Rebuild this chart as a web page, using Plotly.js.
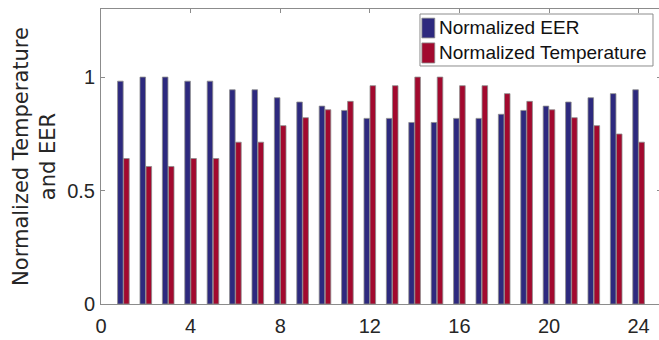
<!DOCTYPE html>
<html>
<head>
<meta charset="utf-8">
<script src="https://cdn.plot.ly/plotly-3.0.1.min.js"></script>
<style>
  html, body { margin: 0; padding: 0; overflow: hidden; background: #fff; }
  #chart { width: 662px; height: 340px; }
</style>
</head>
<body>
<div id="chart"></div>
<script>
// Hours of the day
const hours = [1, 2, 3, 4, 5, 6, 7, 8, 9, 10, 11, 12,
               13, 14, 15, 16, 17, 18, 19, 20, 21, 22, 23, 24];

// Normalized energy efficiency ratio per hour
const eer = [0.982, 1.000, 1.000, 0.982, 0.982, 0.944, 0.944, 0.909, 0.890, 0.872, 0.853, 0.818,
             0.818, 0.800, 0.800, 0.818, 0.818, 0.836, 0.853, 0.872, 0.890, 0.909, 0.927, 0.944];

// Normalized outdoor temperature per hour
const temperature = [0.641, 0.606, 0.606, 0.641, 0.641, 0.713, 0.713, 0.786, 0.821, 0.856, 0.893, 0.962,
                     0.962, 1.000, 1.000, 0.962, 0.962, 0.927, 0.893, 0.856, 0.821, 0.786, 0.749, 0.713];

const seriesNames = ['Normalized EER', 'Normalized Temperature'];

const xTicks = [0, 4, 8, 12, 16, 20, 24];
const yTicks = [0, 0.5, 1];
const yTickText = ['0', '0.5', '1'];

const blue = 'rgb(45,41,126)';
const red = 'rgb(162,9,46)';
const seriesColors = [blue, red];
const edge = 'rgb(140,140,140)';
const textColor = '#262626';
const axisColor = '#8c8c8c';
const fontFamily = '"Liberation Sans", Arial, Helvetica, sans-serif';
const titleFamily = '"DejaVu Sans", "Liberation Sans", Arial, sans-serif';

const traces = [
  {
    type: 'bar', name: seriesNames[0], x: hours, y: eer,
    marker: { color: seriesColors[0], line: { color: edge, width: 0.8 } },
    hoverinfo: 'x+y'
  },
  {
    type: 'bar', name: seriesNames[1], x: hours, y: temperature,
    marker: { color: seriesColors[1], line: { color: edge, width: 0.8 } },
    hoverinfo: 'x+y'
  }
];

// Compact boxed legend in the upper right corner of the axes (paper coordinates)
const legendBox = { x0: 0.5696, x1: 0.9857, y0: 0.8068, y1: 0.983 };
const swatchX = [0.573, 0.596];
const rowSwatchY = [[0.902, 0.969], [0.817, 0.885]];
const rowTextY = [0.9356, 0.851];
const textX = 0.600;

const shapes = [
  {
    type: 'rect', xref: 'paper', yref: 'paper',
    x0: legendBox.x0, x1: legendBox.x1, y0: legendBox.y0, y1: legendBox.y1,
    fillcolor: '#ffffff', line: { color: axisColor, width: 1 }, layer: 'above'
  }
];
const annotations = [];
seriesNames.forEach((name, i) => {
  shapes.push({
    type: 'rect', xref: 'paper', yref: 'paper',
    x0: swatchX[0], x1: swatchX[1], y0: rowSwatchY[i][0], y1: rowSwatchY[i][1],
    fillcolor: seriesColors[i], line: { color: edge, width: 0.8 }, layer: 'above'
  });
  annotations.push({
    xref: 'paper', yref: 'paper', x: textX, y: rowTextY[i],
    xanchor: 'left', yanchor: 'middle', showarrow: false, text: name,
    font: { family: fontFamily, size: 19, color: '#111111' }
  });
});

const layout = {
  width: 662, height: 340,
  margin: { l: 101, r: 1, t: 9, b: 36 },
  paper_bgcolor: '#ffffff', plot_bgcolor: '#ffffff',
  font: { family: fontFamily, color: textColor, size: 20 },
  barmode: 'group', bargap: 0.46, bargroupgap: 0.08,
  showlegend: false,
  shapes: shapes,
  annotations: annotations,
  xaxis: {
    range: [0, 25], tickvals: xTicks, ticktext: xTicks.map(String),
    ticks: 'inside', ticklen: 4, tickcolor: axisColor, tickwidth: 1,
    showline: true, linecolor: axisColor, linewidth: 1, mirror: 'ticks',
    showgrid: false, zeroline: false, ticklabelstandoff: 4,
    tickfont: { size: 20, color: textColor }
  },
  yaxis: {
    range: [0, 1.3], tickvals: yTicks, ticktext: yTickText,
    ticks: 'inside', ticklen: 4, tickcolor: axisColor, tickwidth: 1,
    showline: true, linecolor: axisColor, linewidth: 1, mirror: 'ticks',
    showgrid: false, zeroline: false, ticklabelstandoff: 1,
    tickfont: { size: 20, color: textColor },
    title: {
      text: 'Normalized Temperature<br>and EER',
      font: { family: titleFamily, size: 21, color: textColor }, standoff: 5
    }
  }
};

Plotly.newPlot('chart', traces, layout, { displayModeBar: false, staticPlot: true });
</script>
</body>
</html>
